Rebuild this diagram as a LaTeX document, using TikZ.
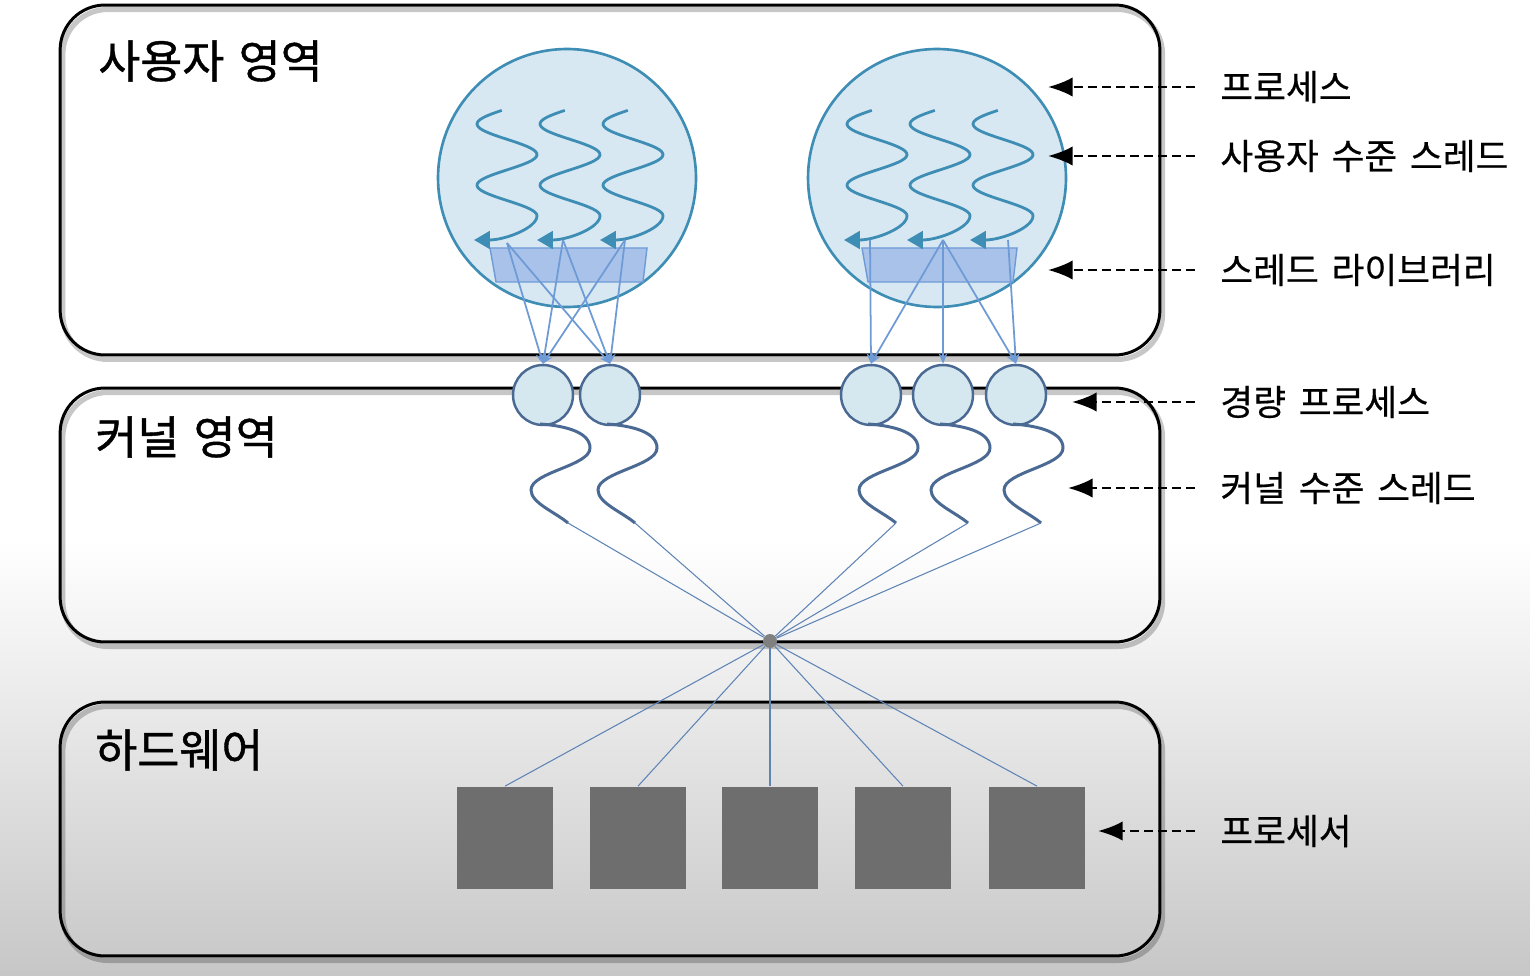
\documentclass[tikz,border=0pt]{standalone}
\usepackage{fontspec}
\newfontfamily\kr[WordSpace=1.6,FakeBold=0.5]{Noto Sans CJK KR}
\newfontfamily\krt[WordSpace=1.4,FakeBold=0.9]{Noto Sans CJK KR}
\usepackage{tikz}
\usetikzlibrary{arrows.meta}
\usepackage{xcolor}
\definecolor{procfill}{HTML}{D7E8F2}
\definecolor{procline}{HTML}{3D8DB4}
\definecolor{libblue}{HTML}{9DB9E8}
\definecolor{linkblue}{HTML}{6E9BD6}
\definecolor{kthread}{HTML}{4A6A94}
\definecolor{lwpfill}{HTML}{D5E7EF}

\begin{document}
\begin{tikzpicture}
  [x=0.02cm,y=-0.02cm,
   area/.style={draw,rounded corners=0.9cm,line width=1.7pt,minimum width=22cm,inner sep=0,
     preaction={draw=black,line width=3pt,opacity=.22,transform canvas={shift={(1.5pt,-2.5pt)}}}},
   title/.style={anchor=west,inner sep=0,font=\krt\fontsize{26}{30}\selectfont},
   sidetext/.style={anchor=west,inner sep=0,font=\kr\fontsize{20.3}{24}\selectfont},
   proc/.style={circle,fill=procfill,draw=procline,line width=1.5pt,minimum size=5.16cm,inner sep=0},
   lwp/.style={circle,fill=lwpfill,draw=kthread,line width=1.4pt,minimum size=1.2cm,inner sep=0},
   cpu/.style={fill=black!57,minimum width=1.92cm,minimum height=2.06cm,inner sep=0},
   hubdot/.style={circle,fill=black!50,minimum size=.28cm,inner sep=0},
   uthread/.style={procline,line width=1.6pt,-{Triangle[length=9pt,width=10pt]}},
   tolwp/.style={linkblue,line width=1pt,-{Stealth[length=6pt,width=5pt]}},
   kwave/.style={kthread,line width=1.7pt},
   hubline/.style={linkblue!85!black,line width=.6pt},
   dasharrow/.style={black,line width=1.4pt,dash pattern=on 5pt off 3pt,
     shorten <=0.5cm,-{Latex[length=14pt,width=11pt]}}]

  \useasboundingbox (0,0) rectangle (1530,976);
  \fill[white] (0,0) rectangle (1530,541);
  \shade[top color=white,bottom color=black!22] (0,540) rectangle (1530,976);

  \node[area,minimum height=7cm]    (user) at (610,180) {};
  \node[area,minimum height=5.08cm] (kern) at (610,515) {};
  \node[area,minimum height=5.08cm] (hw)   at (610,829) {};

  \node[title] (tu) at (98,61)  {사용자 영역};
  \node[title] (tk) at (95,437) {커널 영역};
  \node[title] (th) at (95,750) {하드웨어};

  \node[proc] (p1) at (567,178) {};
  \node[proc] (p2) at (937,178) {};

  \foreach \a/\b in {490/647,862/1017}
    \filldraw[fill=libblue,fill opacity=.8,draw=linkblue,line width=.8pt]
      (\a,248) -- (\b,248) -- (\b-4,282) -- (\a+6,282) -- cycle;

  \foreach \x in {477,540,603,847,910,973}
    \draw[uthread] plot[domain=-80:540,samples=60,variable=\t]
      ({\x+30-30*cos(\t)},{124+0.17*\t})
      .. controls (\x+60,228) and (\x+28,240) .. (\x-3,240);

  \coordinate (u1) at (507,243);
  \coordinate (u2) at (563,240);
  \coordinate (u3) at (625,240);
  \coordinate (u4) at (870,240);
  \coordinate (u5) at (943,240);
  \coordinate (u6) at (1008,240);

  \foreach \c [count=\i] in {543,610,871,943,1016}
    \node[lwp] (l\i) at (\c,395) {};

  \foreach \from/\to in {u1/l1,u1/l2,u2/l1,u2/l2,u3/l1,u3/l2,u4/l3,u5/l3,u5/l4,u5/l5,u6/l5}
    \draw[tolwp] (\from) -- (\to.north);

  \foreach \c [count=\i] in {543,610,871,943,1016}
    \draw[kwave] (\c-3,424) .. controls (\c+25,426) and (\c+47,433) .. (\c+47,448)
      .. controls (\c+47,466) and (\c-12,472) .. (\c-12,490)
      .. controls (\c-12,503) and (\c+12,512) .. (\c+25,523) coordinate (k\i);

  \node[hubdot] (hub) at (770,641) {};

  \foreach \x [count=\i] in {505,638,770,903,1037}
    \node[cpu] (c\i) at (\x,838) {};

  \foreach \i in {1,...,5} {
    \draw[hubline] (k\i) -- (hub);
    \draw[hubline] (hub) -- (c\i.north);
  }

  \foreach \y/\ex/\txt [count=\i] in {87/1048/프로세스,156/1048/사용자 수준 스레드,
      270/1048/스레드 라이브러리,402/1072/경량 프로세스,488/1068/커널 수준 스레드,831/1098/프로세서} {
    \node[sidetext] (s\i) at (1220,\y) {\txt};
    \coordinate (e\i) at (\ex,\y);
    \draw[dasharrow] (s\i.west) -- (e\i);
  }

\end{tikzpicture}
\end{document}
